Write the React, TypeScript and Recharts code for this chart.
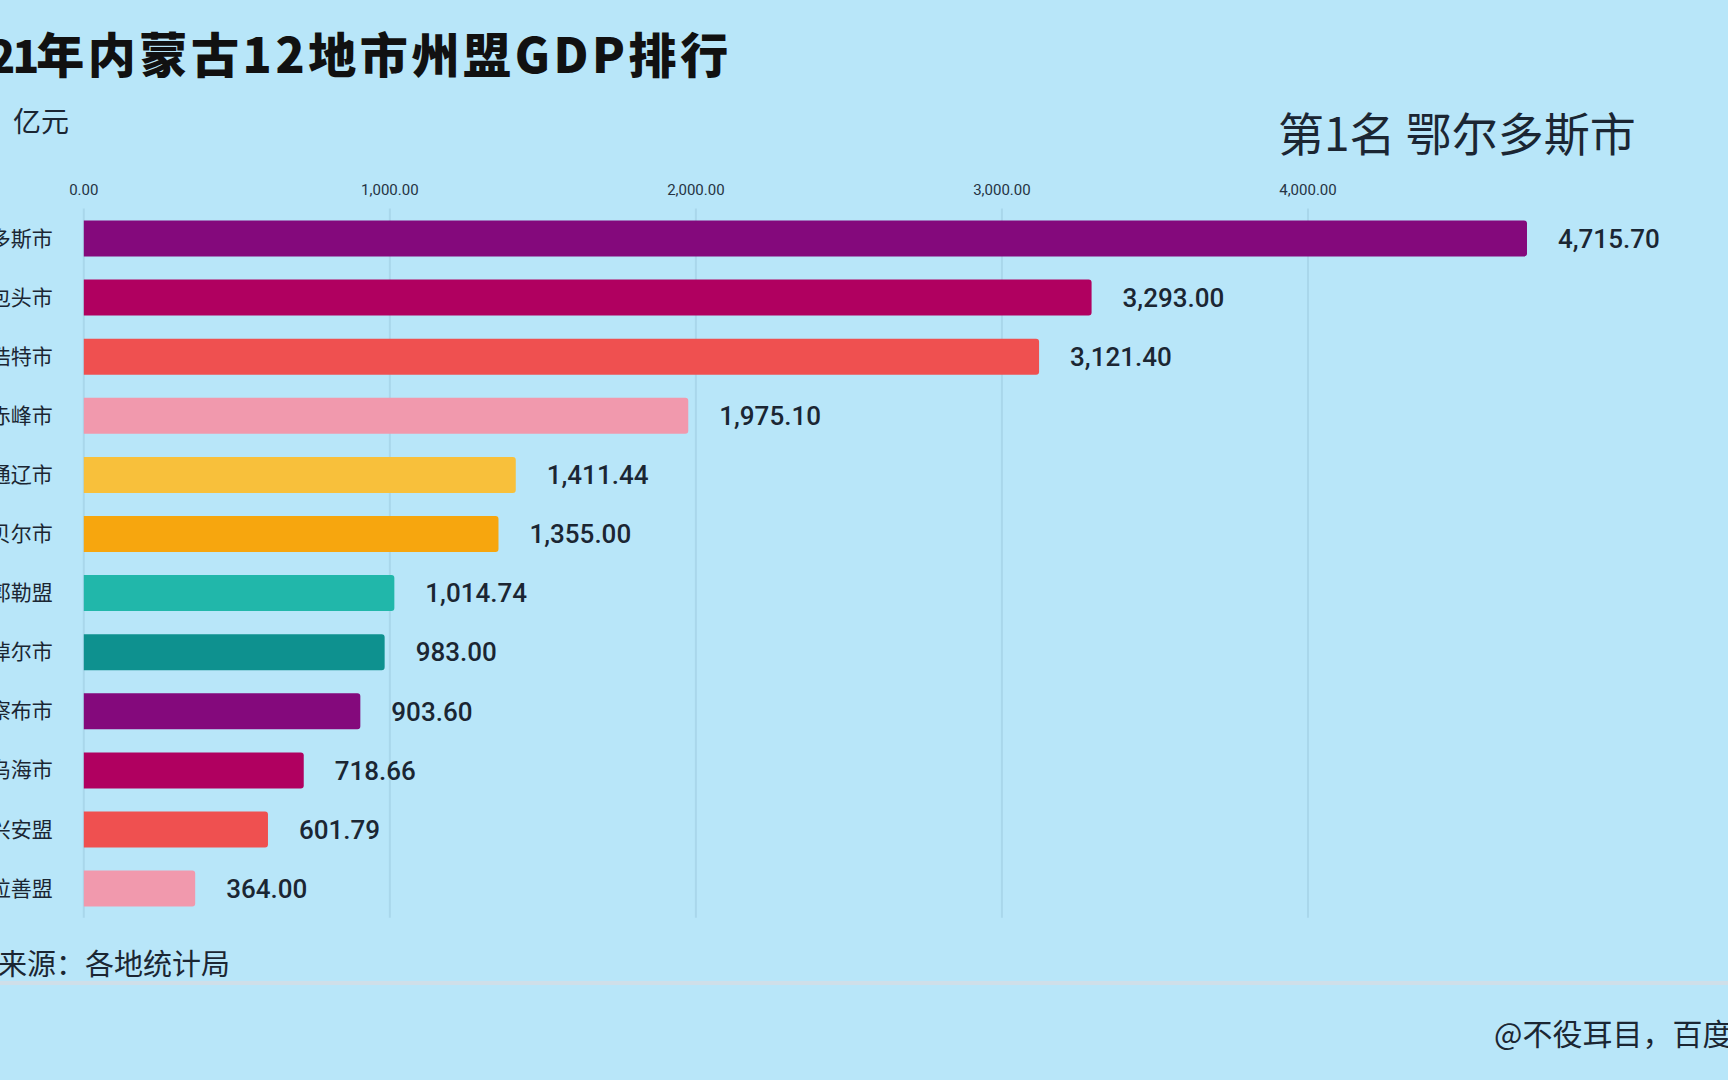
import React from "react";
import { BarChart, Bar, XAxis, YAxis, CartesianGrid, Cell, LabelList } from "recharts";

// 2021 内蒙古 12 地市州盟 GDP（亿元）
const cities = [
  "鄂尔多斯市",
  "包头市",
  "呼和浩特市",
  "赤峰市",
  "通辽市",
  "呼伦贝尔市",
  "锡林郭勒盟",
  "巴彦淖尔市",
  "乌兰察布市",
  "乌海市",
  "兴安盟",
  "阿拉善盟",
];
const gdp = [4715.7, 3293.0, 3121.4, 1975.1, 1411.44, 1355.0, 1014.74, 983.0, 903.6, 718.66, 601.79, 364.0];
const xTicks = [0, 1000, 2000, 3000, 4000];
const palette = ["#84097c", "#b00060", "#ef5050", "#f199ad", "#f8c03b", "#f7a60e", "#21b7aa", "#0e918f"];

const BG = "#b8e6f9";
const INK = "#1b2633";

const fmt = (v: number) =>
  v.toLocaleString("en-US", { minimumFractionDigits: 2, maximumFractionDigits: 2 });

export default function App() {
  const data = cities.map((name, i) => ({ name, value: gdp[i] }));

  return (
    <div
      style={{
        position: "absolute",
        left: 0,
        top: 0,
        width: 1728,
        height: 1080,
        overflow: "hidden",
        background: BG,
        fontFamily: "'Noto Sans CJK SC', 'Noto Sans', sans-serif",
        color: INK,
      }}
    >
      {/* 标题 */}
      <div
        style={{
          position: "absolute",
          left: -59,
          top: 28,
          fontSize: 48,
          fontWeight: 900,
          letterSpacing: 3.6,
          lineHeight: 1,
          whiteSpace: "nowrap",
          color: "#111",
        }}
      >
        <span style={{ fontSize: 44, letterSpacing: -3 }}>2021</span>年内蒙古12地市州盟GDP排行
      </div>
      <div
        style={{ position: "absolute", left: -71, top: 106, fontSize: 28, lineHeight: 1, whiteSpace: "nowrap" }}
      >
        单位：亿元
      </div>
      <div
        style={{ position: "absolute", left: 1278, top: 108, fontSize: 46, lineHeight: 1, whiteSpace: "nowrap" }}
      >
        第1名 鄂尔多斯市
      </div>

      <div style={{ position: "absolute", left: -100, top: 0 }}>
        <BarChart
          width={1864}
          height={940}
          data={data}
          layout="vertical"
          margin={{ top: 178.5, right: 150, bottom: 22.3, left: 0 }}
          barSize={36}
        >
          <CartesianGrid horizontal={false} stroke="#a9d7eb" strokeWidth={2} verticalValues={xTicks} />
          <XAxis
            type="number"
            orientation="top"
            domain={[0, 5000]}
            ticks={xTicks}
            tickFormatter={fmt}
            axisLine={false}
            tickLine={false}
            tickSize={0}
            tickMargin={14}
            height={30}
            tick={{ fontSize: 15, fill: "#263444", fontFamily: "'Liberation Sans Narrow', Roboto, sans-serif" }}
          />
          <YAxis
            type="category"
            dataKey="name"
            width={183.8}
            axisLine={false}
            tickLine={false}
            tickSize={0}
            tickMargin={31}
            tick={{ fontSize: 21, fill: INK }}
          />
          <Bar dataKey="value" isAnimationActive={false} radius={[0, 3, 3, 0]}>
            {data.map((d, i) => (
              <Cell key={d.name} fill={palette[i % palette.length]} />
            ))}
            <LabelList
              dataKey="value"
              position="right"
              offset={31}
              formatter={(v: any) => fmt(Number(v))}
              style={{ fontSize: 26, fontWeight: 500, fill: INK, fontFamily: "Roboto, sans-serif" }}
            />
          </Bar>
        </BarChart>
      </div>

      {/* 数据来源 */}
      <div
        style={{ position: "absolute", left: -60, top: 948, fontSize: 29, lineHeight: 1, whiteSpace: "nowrap" }}
      >
        数据来源：各地统计局
      </div>
      <div style={{ position: "absolute", left: 0, top: 981, width: 1728, height: 4, background: "#cfdfe9" }} />
      <div
        style={{ position: "absolute", left: 1494, top: 1017, fontSize: 30, lineHeight: 1, whiteSpace: "nowrap" }}
      >
        @不役耳目，百度
      </div>
    </div>
  );
}
